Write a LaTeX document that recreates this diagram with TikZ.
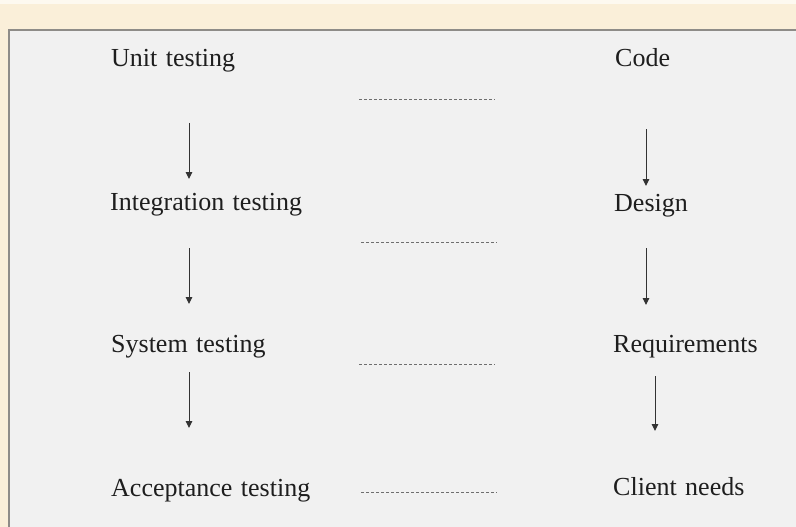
\documentclass[tikz,border=0pt]{standalone}
\usepackage{fontspec}
\setmainfont{Liberation Serif}[WordSpace=1.3]
\usetikzlibrary{arrows.meta}
\definecolor{cream}{HTML}{FAEFD9}
\definecolor{panel}{HTML}{F1F1F1}
\definecolor{framec}{HTML}{8E8C88}
\definecolor{txt}{HTML}{1E1E1E}
\definecolor{dashc}{HTML}{6E6E6E}
\begin{document}
\begin{tikzpicture}[x=1pt,y=-1pt,
  lbl/.style={anchor=base west,inner sep=0pt,text=txt,font=\fontsize{26}{30}\selectfont},
  flow/.style={draw=black!80,line width=1pt,-{Triangle[length=7pt,width=6.5pt]}},
  dots/.style={draw=dashc,line width=1pt,dash pattern=on 3pt off 2pt}]
\clip (0,0) rectangle (796,527);
\fill[cream] (0,0) rectangle (796,527);
\fill[cream!40] (0,0) rectangle (796,4);
\draw[framec,line width=2pt,fill=panel] (9,30) rectangle (810,540);
% labels
\node[lbl] (unit) at (111,67) {Unit testing};
\node[lbl] (integ) at (110,210) {Integration testing};
\node[lbl] (sys) at (111,352) {System testing};
\node[lbl] (acc) at (111,496) {Acceptance testing};
\node[lbl] (code) at (615,67) {Code};
\node[lbl] (design) at (614,211) {Design};
\node[lbl] (req) at (613,352) {Requirements};
\node[lbl] (client) at (613,495) {Client needs};
% arrow end points
\coordinate (l1s) at (189,123); \coordinate (l1e) at (189,179);
\coordinate (l2s) at (189,248); \coordinate (l2e) at (189,304);
\coordinate (l3s) at (189,372); \coordinate (l3e) at (189,428);
\coordinate (r1s) at (646,129); \coordinate (r1e) at (646,186);
\coordinate (r2s) at (646,248); \coordinate (r2e) at (646,305);
\coordinate (r3s) at (655,376); \coordinate (r3e) at (655,431);
\draw[flow] (l1s) -- (l1e);
\draw[flow] (l2s) -- (l2e);
\draw[flow] (l3s) -- (l3e);
\draw[flow] (r1s) -- (r1e);
\draw[flow] (r2s) -- (r2e);
\draw[flow] (r3s) -- (r3e);
% dotted links
\coordinate (d1a) at (359,100); \coordinate (d1b) at (495,100);
\coordinate (d2a) at (361,242); \coordinate (d2b) at (497,242);
\coordinate (d3a) at (359,364); \coordinate (d3b) at (495,364);
\coordinate (d4a) at (361,492); \coordinate (d4b) at (497,492);
\draw[dots] (d1a) -- (d1b);
\draw[dots] (d2a) -- (d2b);
\draw[dots] (d3a) -- (d3b);
\draw[dots] (d4a) -- (d4b);
\end{tikzpicture}
\end{document}
